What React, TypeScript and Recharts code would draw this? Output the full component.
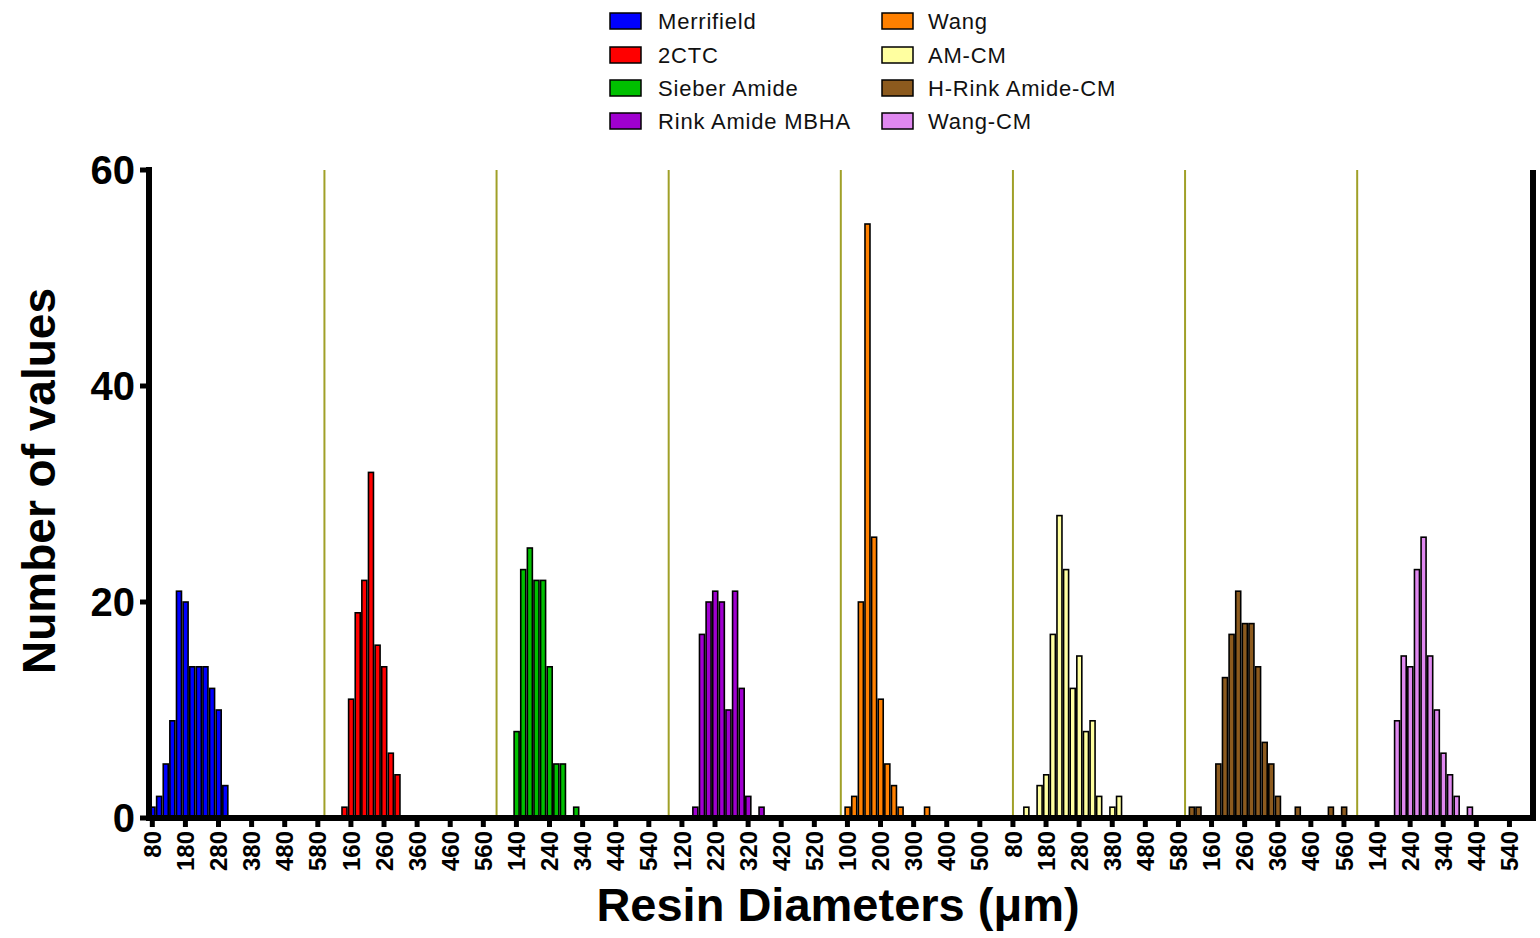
import { BarChart, Bar, XAxis, YAxis, ReferenceLine } from 'recharts'

// bin centres (µm), same for every resin panel
const bins = [80, 100, 120, 140, 160, 180, 200, 220, 240, 260, 280, 300, 320, 340, 360, 380, 400, 420, 440, 460, 480, 500, 520, 540, 560, 580]

const resinNames = ['Merrifield', '2CTC', 'Sieber Amide', 'Rink Amide MBHA', 'Wang', 'AM-CM', 'H-Rink Amide-CM', 'Wang-CM']
const resinColors = ['#0000FF', '#FF0000', '#00C000', '#A000D0', '#FF8000', '#FFFFA0', '#8C5A1E', '#E088F0']

// counts per bin
const merrifield = [1, 2, 5, 9, 21, 20, 14, 14, 14, 12, 10, 3, 0, 0, 0, 0, 0, 0, 0, 0, 0, 0, 0, 0, 0, 0]
const ctc2 = [0, 0, 0, 1, 11, 19, 22, 32, 16, 14, 6, 4, 0, 0, 0, 0, 0, 0, 0, 0, 0, 0, 0, 0, 0, 0]
const sieberAmide = [0, 0, 0, 8, 23, 25, 22, 22, 14, 5, 5, 0, 1, 0, 0, 0, 0, 0, 0, 0, 0, 0, 0, 0, 0, 0]
const rinkMbha = [0, 0, 0, 0, 1, 17, 20, 21, 20, 10, 21, 12, 2, 0, 1, 0, 0, 0, 0, 0, 0, 0, 0, 0, 0, 0]
const wang = [0, 1, 2, 20, 55, 26, 11, 5, 3, 1, 0, 0, 0, 1, 0, 0, 0, 0, 0, 0, 0, 0, 0, 0, 0, 0]
const amCm = [0, 0, 1, 0, 3, 4, 17, 28, 23, 12, 15, 8, 9, 2, 0, 1, 2, 0, 0, 0, 0, 0, 0, 0, 0, 0]
const hRinkCm = [0, 1, 1, 0, 0, 5, 13, 17, 21, 18, 18, 14, 7, 5, 2, 0, 0, 1, 0, 0, 0, 0, 1, 0, 1, 0]
const wangCm = [0, 0, 0, 0, 0, 0, 9, 15, 14, 23, 26, 15, 10, 6, 4, 2, 0, 1, 0, 0, 0, 0, 0, 0, 0, 0]

const yTicks = [0, 20, 40, 60]

const allCounts = [merrifield, ctc2, sieberAmide, rinkMbha, wang, amCm, hRinkCm, wangCm]

const data = allCounts.flatMap((counts, s) =>
  bins.map((bin, i) => ({ key: `${s}:${bin}`, series: s, count: counts[i] }))
)

const FONT = 'Arial, "Liberation Sans", sans-serif'

function XTick(props: any) {
  const { x, y, payload } = props
  const label = String(payload.value).split(':')[1]
  return (
    <text
      x={x}
      y={y}
      transform={`rotate(-90, ${x}, ${y})`}
      textAnchor="end"
      dy="0.36em"
      fontSize={24}
      fontWeight="bold"
      fontFamily={FONT}
      fill="#000"
    >
      {label}
    </text>
  )
}

function HistBar(props: any) {
  const { x, y, width, height, payload } = props
  if (!payload || !payload.count || height <= 0) return <g />
  return (
    <rect
      x={x}
      y={y}
      width={width}
      height={height}
      fill={resinColors[payload.series]}
      stroke="#000"
      strokeWidth={1.6}
    />
  )
}

export default function App() {
  const legendRows = [21, 55, 88, 121]
  return (
    <div style={{ position: 'absolute', left: 0, top: 0, width: 1540, height: 938, background: '#fff', fontFamily: FONT }}>
      <BarChart
        width={1540}
        height={938}
        data={data}
        margin={{ top: 170, right: 5, bottom: 60, left: 0 }}
        barSize={5}
      >
        <XAxis
          dataKey="key"
          interval={4}
          height={60}
          tickSize={9}
          tickMargin={4}
          padding={{ left: 0, right: 7 }}
          tick={<XTick />}
          tickLine={{ stroke: '#000', strokeWidth: 5 }}
          axisLine={{ stroke: '#000', strokeWidth: 6, strokeLinecap: 'square' }}
        />
        <YAxis
          width={149}
          domain={[0, 60]}
          ticks={yTicks}
          tickSize={9}
          tickMargin={5}
          tick={{ fontSize: 40, fontWeight: 'bold', fill: '#000', fontFamily: FONT }}
          tickLine={{ stroke: '#000', strokeWidth: 5 }}
          axisLine={{ stroke: '#000', strokeWidth: 6, strokeLinecap: 'square' }}
        />
        <YAxis
          yAxisId="r"
          orientation="right"
          width={2}
          domain={[0, 60]}
          tick={false}
          tickLine={false}
          axisLine={{ stroke: '#000', strokeWidth: 6 }}
        />
        {allCounts.slice(1).map((_, i) => (
          <ReferenceLine key={i} x={`${i + 1}:80`} stroke="#A0A028" strokeWidth={2} />
        ))}
        <Bar dataKey="count" shape={<HistBar />} isAnimationActive={false} />
      </BarChart>

      <svg width={1540} height={938} style={{ position: 'absolute', left: 0, top: 0, pointerEvents: 'none' }}>
        <text
          x={55}
          y={481}
          transform="rotate(-90, 55, 481)"
          textAnchor="middle"
          fontSize={46}
          fontWeight="bold"
          fontFamily={FONT}
          fill="#000"
        >
          Number of values
        </text>
        <text x={838} y={921} textAnchor="middle" fontSize={47} fontWeight="bold" fontFamily={FONT} fill="#000">
          Resin Diameters (μm)
        </text>
        {resinNames.map((name, i) => {
          const col = Math.floor(i / 4)
          const cy = legendRows[i % 4]
          const sx = col === 0 ? 610 : 882
          const tx = col === 0 ? 658 : 928
          return (
            <g key={name}>
              <rect x={sx} y={cy - 8} width={31} height={16} fill={resinColors[i]} stroke="#000" strokeWidth={1.5} />
              <text x={tx} y={cy + 8} fontSize={22} letterSpacing={0.8} fontFamily={FONT} fill="#111">
                {name}
              </text>
            </g>
          )
        })}
      </svg>
    </div>
  )
}
